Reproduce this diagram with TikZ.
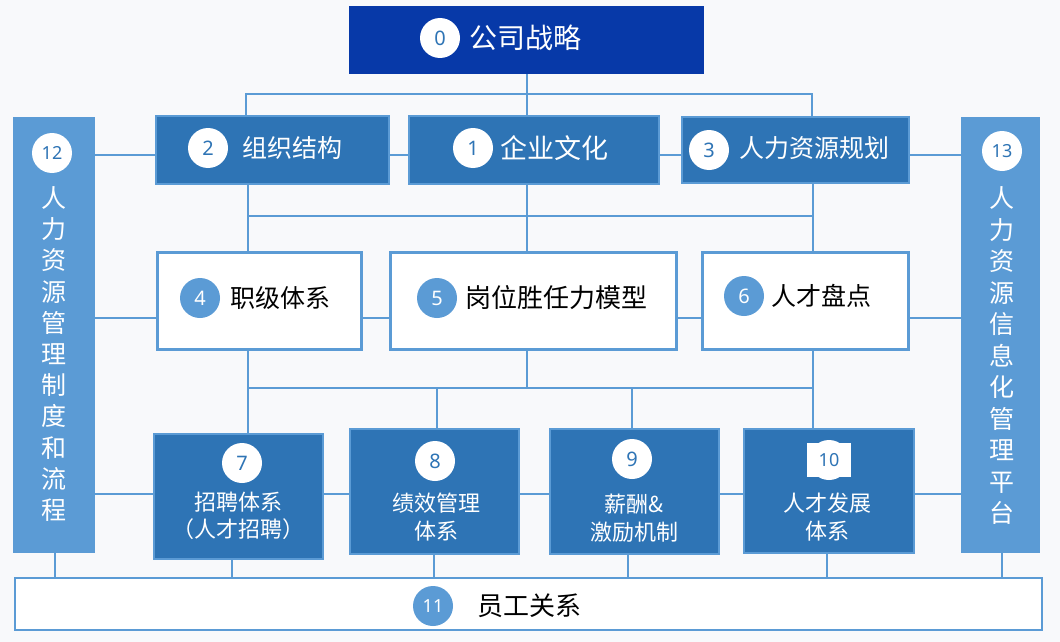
\documentclass[tikz,border=0pt]{standalone}
\usepackage{fontspec}
\setmainfont{Noto Sans}
\newfontfamily\cjk{Noto Sans CJK SC}
\definecolor{navy}{HTML}{0739A8}
\definecolor{mid}{HTML}{2E74B5}
\definecolor{light}{HTML}{5B9BD5}
\definecolor{bg}{HTML}{F8F9FB}
\begin{document}
\begin{tikzpicture}[x=1pt,y=-1pt,
  conn/.style={draw=light,line width=1.2pt},
  darkbox/.style={fill=mid,draw=light,line width=2pt,inner sep=0pt},
  whitebox/.style={fill=white,draw=light,line width=3pt,inner sep=0pt},
  sidebar/.style={fill=light,draw=none,inner sep=0pt},
  wcirc/.style={circle,fill=white,minimum size=40pt,inner sep=0pt,text=mid,font=\fontsize{20}{20}\selectfont},
  bcirc/.style={circle,fill=light,minimum size=40pt,inner sep=0pt,text=white,font=\fontsize{20}{20}\selectfont},
  twodig/.style={font=\bfseries\fontsize{18}{18}\selectfont},
  wlabel/.style={text=white,inner sep=0pt,font=\cjk\fontsize{25}{30}\selectfont},
  blabel/.style={text=black,inner sep=0pt,font=\cjk\fontsize{25}{30}\selectfont},
  small/.style={text=white,inner sep=0pt,align=center,font=\cjk\fontsize{22}{27.5}\selectfont}]
\fill[bg] (0,0) rectangle (1060,642);
\useasboundingbox (0,0) rectangle (1060,642);

% boxes
\node[fill=navy,inner sep=0pt,minimum width=355pt,minimum height=68pt] (b0) at (526.5,40) {};
\node[darkbox,minimum width=233pt,minimum height=68pt] (b2) at (272.5,150) {};
\node[darkbox,minimum width=250pt,minimum height=68pt] (b1) at (534,150) {};
\node[darkbox,minimum width=227pt,minimum height=66pt] (b3) at (795.5,150) {};
\node[sidebar,minimum width=82pt,minimum height=436pt] (b12) at (54,335) {};
\node[sidebar,minimum width=79pt,minimum height=436pt] (b13) at (1000.5,335) {};
\node[whitebox,minimum width=204pt,minimum height=97pt] (b4) at (259.5,300.5) {};
\node[whitebox,minimum width=286pt,minimum height=97pt] (b5) at (533.5,300.5) {};
\node[whitebox,minimum width=206pt,minimum height=97pt] (b6) at (805.5,300.5) {};
\node[darkbox,minimum width=169pt,minimum height=125pt] (b7) at (238,496) {};
\node[darkbox,minimum width=169pt,minimum height=125pt] (b8) at (434,491) {};
\node[darkbox,minimum width=169pt,minimum height=125pt] (b9) at (634,491) {};
\node[darkbox,minimum width=170pt,minimum height=124pt] (b10) at (828.5,490.5) {};
\node[fill=white,draw=light,line width=1.5pt,inner sep=0pt,minimum width=1027pt,minimum height=52pt] (b11) at (528.5,604) {};

% connectors: top bus
\coordinate (tL) at (246,94);
\coordinate (tC) at (527,94);
\coordinate (tR) at (812,94);
\draw[conn] (tC |- b0.south) -- (tC |- b1.north);
\draw[conn] (tL |- b2.north) -- (tL) -- (tR) -- (tR |- b3.north);
% middle bus
\coordinate (mL) at (248,216);
\coordinate (mC) at (527,216);
\coordinate (mR) at (813,216);
\draw[conn] (mL |- b2.south) -- (mL |- b4.north);
\draw[conn] (mC |- b1.south) -- (mC |- b5.north);
\draw[conn] (mR |- b3.south) -- (mR |- b6.north);
\draw[conn] (mL) -- (mR);
% lower bus
\coordinate (lL) at (248,388);
\coordinate (lC) at (527,388);
\coordinate (l8) at (437,388);
\coordinate (l9) at (632,388);
\coordinate (lR) at (813,388);
\draw[conn] (lL |- b4.south) -- (lL |- b7.north);
\draw[conn] (lC |- b5.south) -- (lC);
\draw[conn] (lR |- b6.south) -- (lR |- b10.north);
\draw[conn] (lL) -- (lR);
\draw[conn] (l8) -- (l8 |- b8.north);
\draw[conn] (l9) -- (l9 |- b9.north);
% horizontal rows
\coordinate (r1) at (0,155);
\coordinate (r2) at (0,318);
\coordinate (r3) at (0,494);
\draw[conn] (b12.east |- r1) -- (b2.west |- r1);
\draw[conn] (b2.east |- r1) -- (b1.west |- r1);
\draw[conn] (b1.east |- r1) -- (b3.west |- r1);
\draw[conn] (b3.east |- r1) -- (b13.west |- r1);
\draw[conn] (b12.east |- r2) -- (b4.west |- r2);
\draw[conn] (b4.east |- r2) -- (b5.west |- r2);
\draw[conn] (b5.east |- r2) -- (b6.west |- r2);
\draw[conn] (b6.east |- r2) -- (b13.west |- r2);
\draw[conn] (b12.east |- r3) -- (b7.west |- r3);
\draw[conn] (b7.east |- r3) -- (b8.west |- r3);
\draw[conn] (b8.east |- r3) -- (b9.west |- r3);
\draw[conn] (b9.east |- r3) -- (b10.west |- r3);
\draw[conn] (b10.east |- r3) -- (b13.west |- r3);
% drops to bottom bar
\coordinate (d12) at (55,0);
\coordinate (d7) at (232,0);
\coordinate (d8) at (434,0);
\coordinate (d9) at (628,0);
\coordinate (d10) at (827,0);
\coordinate (d13) at (1002,0);
\draw[conn] (d12 |- b12.south) -- (d12 |- b11.north);
\draw[conn] (d7 |- b7.south) -- (d7 |- b11.north);
\draw[conn] (d8 |- b8.south) -- (d8 |- b11.north);
\draw[conn] (d9 |- b9.south) -- (d9 |- b11.north);
\draw[conn] (d10 |- b10.south) -- (d10 |- b11.north);
\draw[conn] (d13 |- b13.south) -- (d13 |- b11.north);

% numbers and labels
\node[wcirc] (c0) at (440,38) {0};
\node[wlabel,anchor=west,font=\cjk\fontsize{28}{30}\selectfont] (t0) at (469,38) {公司战略};
\node[wcirc] (c2) at (208,148) {2};
\node[wlabel,anchor=west] (t2) at (242,148) {组织结构};
\node[wcirc] (c1) at (473,148) {1};
\node[wlabel,anchor=west,font=\cjk\fontsize{27}{30}\selectfont] (t1) at (500,148) {企业文化};
\node[wcirc] (c3) at (709,150) {3};
\node[wlabel,anchor=west] (t3) at (739,148) {人力资源规划};
\node[wcirc,twodig] (c12) at (52,153) {12};
\node[wlabel,align=center,font=\cjk\fontsize{25}{31.2}\selectfont] (t12) at (54,354) {人\\力\\资\\源\\管\\理\\制\\度\\和\\流\\程};
\node[wcirc,twodig] (c13) at (1002,151) {13};
\node[wlabel,align=center,font=\cjk\fontsize{25}{31.5}\selectfont] (t13) at (1002,356) {人\\力\\资\\源\\信\\息\\化\\管\\理\\平\\台};
\node[bcirc] (c4) at (200,298) {4};
\node[blabel,anchor=west] (t4) at (230,298) {职级体系};
\node[bcirc] (c5) at (437,298) {5};
\node[blabel,anchor=west,font=\cjk\fontsize{26}{30}\selectfont] (t5) at (465,298) {岗位胜任力模型};
\node[bcirc] (c6) at (744,296) {6};
\node[blabel,anchor=west] (t6) at (771,296) {人才盘点};
\node[wcirc] (c7) at (242,463) {7};
\node[small] (t7) at (238,516) {招聘体系\\（人才招聘）};
\node[wcirc] (c8) at (435,461) {8};
\node[small] (t8) at (436,517) {绩效管理\\体系};
\node[wcirc] (c9) at (632,459) {9};
\node[small] (t9) at (634,518) {薪酬\&\\激励机制};
\node[wcirc] (c10) at (829,460) {};
\node[fill=white,inner sep=0pt,minimum width=44pt,minimum height=34pt,text=mid,twodig] (s10) at (829,460) {10};
\node[small] (t10) at (827,517) {人才发展\\体系};
\node[bcirc,twodig] (c11) at (433,606) {11};
\node[blabel,anchor=west,font=\cjk\fontsize{26}{30}\selectfont] (t11) at (477,606) {员工关系};
\end{tikzpicture}
\end{document}
